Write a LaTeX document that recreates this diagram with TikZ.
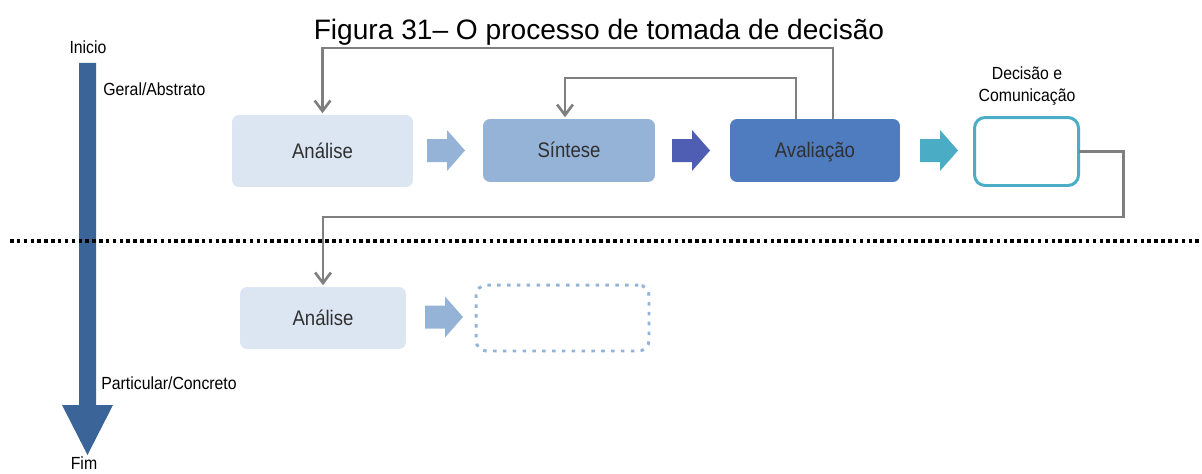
\documentclass[tikz,border=0pt]{standalone}
\usepackage{fontspec}
\setmainfont{Liberation Sans}
\newfontfamily\boxsans[FakeStretch=0.88]{Liberation Sans}
\newfontfamily\labelsans[FakeStretch=0.9]{Liberation Sans}
\usetikzlibrary{arrows.meta}

\definecolor{boxpale}{HTML}{DCE6F2}
\definecolor{boxmid}{HTML}{95B3D7}
\definecolor{boxdark}{HTML}{4F7CBF}
\definecolor{arrowviolet}{HTML}{4F5EB2}
\definecolor{accentteal}{HTML}{4BACC6}
\definecolor{linkgray}{HTML}{7F7F7F}
\definecolor{timeblue}{HTML}{3B6498}
\definecolor{inktext}{HTML}{303030}

\tikzset{
  stagebox/.style={rectangle, rounded corners=4pt, outer sep=0pt,
    text=inktext, font=\boxsans\fontsize{12}{14}\selectfont,
    text height=9pt, text depth=1pt},
  sidelabel/.style={text=black, font=\labelsans\fontsize{10}{13}\selectfont, inner sep=0pt},
  link/.style={draw=linkgray, line width=1.5pt, rounded corners=0pt},
  linkarrow/.style={link, -{Straight Barb[length=6pt,width=9pt,line width=1.5pt]}, shorten >=1pt},
  separator/.style={draw=black, line width=1.9pt, dash pattern=on 2pt off 1.9pt},
  blockarrow/.pic={
    \fill[pic actions] (-19,-11.5) -- (1,-11.5) -- (1,-20.5) -- (19,0)
      -- (1,20.5) -- (1,11.5) -- (-19,11.5) -- cycle;
  }
}

\begin{document}
\begin{tikzpicture}[x=0.02cm, y=-0.02cm]
  \useasboundingbox (0,0) rectangle (1202,473);

  % title
  \node[font=\fontsize{16}{19}\selectfont] (title) at (599,32)
    {Figura 31-- O processo de tomada de decisão};

  % vertical axis: from general to particular
  \fill[timeblue] (79,63) -- (96,63) -- (96,405) -- (113,405)
    -- (87.5,455) -- (62,405) -- (79,405) -- cycle;
  \node[sidelabel] (inicio) at (88,47) {Inicio};
  \node[sidelabel] (fim) at (84,463) {Fim};
  \node[sidelabel, anchor=west] (geral) at (103,89) {Geral/Abstrato};
  \node[sidelabel, anchor=west] (particular) at (101,383) {Particular/Concreto};

  % level separator
  \coordinate (sepL) at (10,241);
  \coordinate (sepR) at (1202,241);
  \draw[separator] (sepL) -- (sepR);

  % upper row
  \node[stagebox, fill=boxpale, minimum width=3.62cm, minimum height=1.44cm]
    (a1) at (322.5,151) {Análise};
  \node[stagebox, fill=boxmid, minimum width=3.44cm, minimum height=1.26cm]
    (s) at (569,150.5) {Síntese};
  \node[stagebox, fill=boxdark, minimum width=3.4cm, minimum height=1.26cm]
    (av) at (815,150.5) {Avaliação};
  \node[stagebox, draw=accentteal, line width=1.7pt, fill=white,
    rounded corners=6pt, minimum width=2.08cm, minimum height=1.36cm]
    (dc) at (1026.5,151.5) {};
  \node[sidelabel, align=center] (dclabel) at (1027,86)
    {Decisão e\\Comunicação};

  \pic[fill=boxmid] at (446,150.5) {blockarrow};
  \pic[fill=arrowviolet] at (691,150.5) {blockarrow};
  \pic[fill=accentteal] at (939,150.5) {blockarrow};

  % lower row
  \node[stagebox, fill=boxpale, minimum width=3.32cm, minimum height=1.24cm]
    (a2) at (323,318) {Análise};
  \node[stagebox, draw=boxmid, line width=1.7pt, dash pattern=on 2pt off 3.6pt,
    rounded corners=6pt, minimum width=3.46cm, minimum height=1.32cm]
    (dt) at (562.5,318) {};
  \pic[fill=boxmid] at (444,317) {blockarrow};

  % feedback loops
  \draw[linkarrow] ([xshift=0.36cm]av.north) |- ([yshift=1.34cm]a1.north) -- (a1.north);
  \draw[linkarrow] ([xshift=-0.38cm]av.north) |- ([xshift=-0.08cm, yshift=0.82cm]s.north)
    -- ([xshift=-0.08cm]s.north);
  \draw[linkarrow] (dc.east) -- ++(45,0) |- ([yshift=1.4cm]a2.north) -- (a2.north);
\end{tikzpicture}
\end{document}
